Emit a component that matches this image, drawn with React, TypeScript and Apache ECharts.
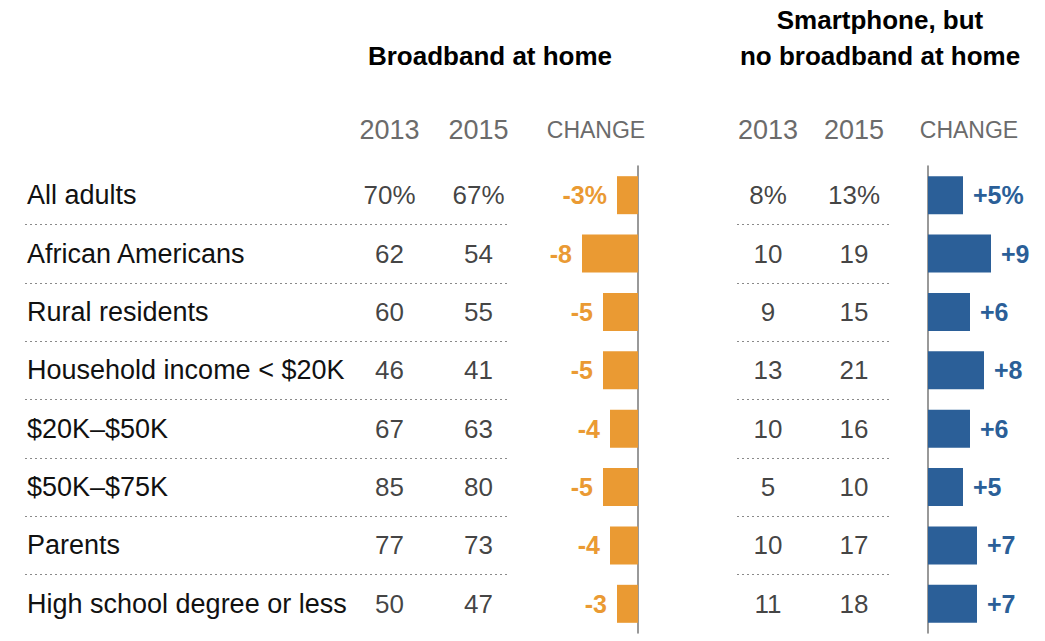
import { useEffect, useRef } from "react";
import * as echarts from "echarts";

const groups = [
  "All adults",
  "African Americans",
  "Rural residents",
  "Household income < $20K",
  "$20K–$50K",
  "$50K–$75K",
  "Parents",
  "High school degree or less",
];
const years = ["2013", "2015"];
const broadband2013 = [70, 62, 60, 46, 67, 85, 77, 50];
const broadband2015 = [67, 54, 55, 41, 63, 80, 73, 47];
const broadbandChange = [-3, -8, -5, -5, -4, -5, -4, -3];
const phoneOnly2013 = [8, 10, 9, 13, 10, 5, 10, 11];
const phoneOnly2015 = [13, 19, 15, 21, 16, 10, 17, 18];
const phoneOnlyChange = [5, 9, 6, 8, 6, 5, 7, 7];

const ORANGE = "#EA9A33";
const BLUE = "#2B5F98";
const SANS = "Liberation Sans, Arial, sans-serif";

const TOP = 166;
const HEIGHT = 467;

const App = () => {
  const chartRef = useRef<HTMLDivElement>(null);

  useEffect(() => {
    document.body.style.margin = "0";
    if (!chartRef.current) return;
    const myChart = echarts.init(chartRef.current, null, { renderer: "svg" });

    const pct = (v: number, i: number) => (i === 0 ? v + "%" : String(v));
    const signed = (v: number, i: number) =>
      (v > 0 ? "+" : "") + v + (i === 0 ? "%" : "");

    const rowAxis = (gridIndex: number, extra: any = {}) => ({
      type: "category",
      gridIndex,
      data: groups,
      inverse: true,
      axisLine: { show: false },
      axisTick: { show: false },
      axisLabel: { show: false },
      splitLine: { show: false },
      ...extra,
    });

    const separators = {
      show: true,
      showMinLine: false,
      showMaxLine: false,
      lineStyle: { color: "#8a8a8a", type: [2, 3], width: 1 },
    };

    const hiddenValue = (gridIndex: number, min = 0, max = 1) => ({
      type: "value",
      gridIndex,
      min,
      max,
      show: false,
      splitLine: { show: false },
    });

    const yearAxis = (gridIndex: number) => ({
      type: "category",
      gridIndex,
      data: years,
      position: "top",
      axisLine: { show: false },
      axisTick: { show: false },
      splitLine: { show: false },
      axisLabel: {
        color: "#6b6b6b",
        fontFamily: SANS,
        fontSize: 27,
        margin: 23,
      },
    });

    const yearSeries = (gridIndex: number, year: number, values: number[]) => ({
      type: "scatter",
      xAxisIndex: gridIndex,
      yAxisIndex: gridIndex,
      symbolSize: 1,
      itemStyle: { color: "rgba(0,0,0,0)" },
      data: values.map((v, i) => [year, i, v]),
      label: {
        show: true,
        position: "inside",
        color: "#111111",
        fontFamily: SANS,
        fontSize: 26,
        formatter: (p: any) => pct(p.value[2], p.dataIndex),
      },
    });

    const barSeries = (gridIndex: number, values: number[], color: string, side: string) => ({
      type: "bar",
      xAxisIndex: gridIndex,
      yAxisIndex: gridIndex,
      data: values,
      barWidth: 38,
      itemStyle: { color },
      label: {
        show: true,
        position: side,
        distance: 10,
        color,
        fontFamily: SANS,
        fontWeight: "bold",
        fontSize: 25,
        formatter: (p: any) => signed(p.value, p.dataIndex),
      },
    });

    const headText = (x: number, y: number, text: string, size: number) => ({
      type: "text",
      x,
      y,
      style: {
        text,
        fill: "#6b6b6b",
        font: `${size}px ${SANS}`,
        textAlign: "center",
        textVerticalAlign: "middle",
      },
    });

    const titleText = (x: number, y: number, text: string) => ({
      type: "text",
      x,
      y,
      style: {
        text,
        fill: "#000000",
        font: `bold 26px ${SANS}`,
        textAlign: "center",
        textVerticalAlign: "middle",
      },
    });

    myChart.setOption({
      animation: false,
      backgroundColor: "#ffffff",
      grid: [
        { left: 25, width: 485, top: TOP, height: HEIGHT },
        { left: 345, width: 178, top: TOP, height: HEIGHT },
        { left: 575, width: 63, top: TOP, height: HEIGHT },
        { left: 737, width: 153, top: TOP, height: HEIGHT },
        { left: 725, width: 172, top: TOP, height: HEIGHT },
        { left: 928, width: 70, top: TOP, height: HEIGHT },
      ],
      xAxis: [
        hiddenValue(0),
        yearAxis(1),
        hiddenValue(2, -9, 0),
        hiddenValue(3),
        yearAxis(4),
        hiddenValue(5, 0, 10),
      ],
      yAxis: [
        rowAxis(0, {
          splitLine: separators,
          axisLabel: {
            show: true,
            inside: true,
            margin: 2,
            color: "#111111",
            fontFamily: SANS,
            fontSize: 27,
          },
        }),
        rowAxis(1),
        rowAxis(2, {
          position: "right",
          axisLine: { show: true, lineStyle: { color: "#777777", width: 1.5 } },
        }),
        rowAxis(3, { splitLine: separators }),
        rowAxis(4),
        rowAxis(5, {
          position: "left",
          axisLine: { show: true, lineStyle: { color: "#777777", width: 1.5 } },
        }),
      ],
      series: [
        yearSeries(1, 0, broadband2013),
        yearSeries(1, 1, broadband2015),
        barSeries(2, broadbandChange, ORANGE, "left"),
        yearSeries(4, 0, phoneOnly2013),
        yearSeries(4, 1, phoneOnly2015),
        barSeries(5, phoneOnlyChange, BLUE, "right"),
      ],
      graphic: [
        titleText(490, 56, "Broadband at home"),
        titleText(880, 20, "Smartphone, but"),
        titleText(880, 56, "no broadband at home"),
        headText(596, 130, "CHANGE", 23),
        headText(969, 130, "CHANGE", 23),
      ],
    });

    return () => {
      myChart.dispose();
    };
  }, []);

  return (
    <div
      ref={chartRef}
      style={{ position: "fixed", left: 0, top: 0, width: "1045px", height: "641px" }}
    ></div>
  );
};

export default App;
